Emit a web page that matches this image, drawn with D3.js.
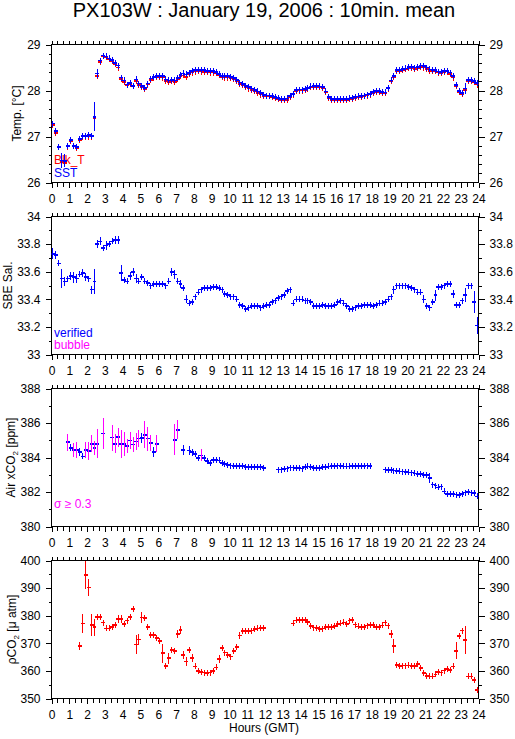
<!DOCTYPE html>
<html>
<head>
<meta charset="utf-8">
<script src="https://cdnjs.cloudflare.com/ajax/libs/d3/7.8.5/d3.min.js"></script>
<style>
  body { margin: 0; background: #fff; }
  svg { display: block; }
  text { font-family: "Liberation Sans", Arial, Helvetica, sans-serif; fill: #000; }
</style>
</head>
<body>
<div id="chart"></div>
<script>
var svgWidth = 515;
var svgHeight = 739;

var title = "PX103W : January 19, 2006 : 10min. mean";

// 10 minute bins, value i is the mean over hour i/6 .. (i+1)/6
var hourTicks = d3.range(0, 25);

// SST (blue) and bulk temperature (red), one row = 2 hours
var sst = [
27.28,27.12,26.77,26.48,26.47,26.79,26.92,26.80,26.77,26.95,27.01,27.01,
27.03,27.01,27.43,28.37,28.65,28.76,28.74,28.70,28.66,28.60,28.54,28.28,
28.22,28.13,28.16,28.10,28.24,28.15,28.10,28.06,28.15,28.26,28.30,28.32,
28.32,28.31,28.24,28.22,28.23,28.22,28.27,28.34,28.37,28.35,28.38,28.42,
28.44,28.45,28.45,28.44,28.43,28.42,28.42,28.40,28.36,28.32,28.31,28.31,
28.30,28.27,28.23,28.17,28.14,28.10,28.07,28.04,28.01,27.98,27.94,27.90,
27.89,27.89,27.88,27.86,27.84,27.82,27.81,27.83,27.88,27.93,28.01,28.02,
28.02,28.03,28.06,28.09,28.10,28.10,28.09,28.07,27.98,27.86,27.82,27.82,
27.82,27.81,27.81,27.82,27.83,27.84,27.86,27.87,27.88,27.89,27.91,27.93,
27.97,27.99,27.99,27.97,27.96,28.06,28.22,28.32,28.44,28.45,28.47,28.48,
28.51,28.51,28.50,28.51,28.54,28.53,28.50,28.46,28.45,28.44,28.41,28.40,
28.42,28.43,28.39,28.31,28.12,27.99,27.94,28.04,28.23,28.23,28.21,28.16
];
var sstErr = [[1,0.05],[2,0.07],[3,0.16],[4,0.14],[12,0.04],[14,0.32],[15,0.09],[16,0.04],
  [22,0.05],[115,0.05],[135,0.04],[139,0.12]];

var bulkT = [
27.25,27.08,26.77,26.44,26.42,26.78,26.90,26.79,26.75,26.93,27.00,27.00,
27.00,27.00,27.40,28.32,28.62,28.74,28.72,28.68,28.64,28.58,28.50,28.25,
28.19,28.12,28.14,28.09,28.21,28.12,28.08,28.03,28.13,28.23,28.28,28.29,
28.29,28.28,28.21,28.19,28.20,28.19,28.24,28.31,28.33,28.30,28.35,28.39,
28.41,28.42,28.41,28.40,28.40,28.39,28.39,28.37,28.33,28.29,28.28,28.28,
28.27,28.24,28.20,28.14,28.11,28.07,28.04,28.01,27.98,27.95,27.91,27.88,
27.87,27.87,27.86,27.84,27.82,27.80,27.79,27.80,27.86,27.91,27.99,28.00,
28.00,28.01,28.04,28.07,28.08,28.08,28.07,28.05,27.96,27.84,27.80,27.80,
27.80,27.79,27.79,27.80,27.81,27.82,27.84,27.85,27.86,27.87,27.89,27.91,
27.95,27.97,27.96,27.95,27.94,28.04,28.20,28.29,28.42,28.43,28.45,28.46,
28.48,28.48,28.47,28.48,28.51,28.50,28.47,28.43,28.43,28.42,28.39,28.38,
28.40,28.41,28.36,28.28,28.09,27.97,27.92,28.01,28.21,28.21,28.19,28.13
];
var bulkErr = [[1,0.03],[3,0.05],[4,0.05],[14,0.05],[15,0.04]];

// SBE salinity (all verified)
var sal = [
33.73,33.72,33.66,33.55,33.53,33.55,33.57,33.56,33.55,33.58,33.59,33.56,
33.55,33.47,33.53,33.80,33.82,33.77,33.79,33.80,33.82,33.83,33.83,33.59,
33.54,33.53,33.57,33.60,33.55,33.53,33.56,33.53,33.52,33.50,33.51,33.51,
33.51,33.51,33.50,33.53,33.60,33.58,33.53,33.51,33.48,33.40,33.37,33.38,
33.42,33.45,33.47,33.48,33.48,33.48,33.49,33.49,33.48,33.47,33.44,33.43,
33.42,33.42,33.40,33.36,33.35,33.33,33.34,33.35,33.35,33.35,33.34,33.35,
33.36,33.36,33.38,33.39,33.41,33.42,33.43,33.46,33.47,33.37,33.40,33.40,
33.40,33.39,33.39,33.38,33.35,33.35,33.35,33.36,33.35,33.35,33.35,33.36,
33.38,33.39,33.37,33.35,33.33,33.33,33.34,33.35,33.35,33.36,33.36,33.36,
33.35,33.36,33.37,33.37,33.38,33.40,33.42,33.47,33.50,33.50,33.50,33.50,
33.49,33.48,33.47,33.45,33.45,33.40,33.35,33.34,33.38,33.43,33.49,33.49,
33.50,33.51,33.51,33.44,33.36,33.36,33.39,33.43,33.50,33.50,33.38,33.21
];
var salErr = [[0,0.04],[1,0.03],[3,0.07],[4,0.03],[6,0.03],[7,0.04],[8,0.03],[10,0.03],[11,0.03],
  [13,0.03],[14,0.09],[15,0.03],[16,0.03],[18,0.03],[21,0.03],[22,0.03],[23,0.06],[26,0.03],
  [27,0.03],[28,0.03],[40,0.03],[41,0.03],[43,0.03],[45,0.03],[115,0.03],[125,0.03],[129,0.04],
  [135,0.03],[139,0.05],[142,0.08],[143,0.06]];

// air xCO2, ppm
var xco2 = [
null,null,null,null,null,384.89,384.56,384.45,384.45,384.31,384.06,384.45,
384.37,384.80,384.56,384.80,null,385.38,null,null,385.15,384.80,385.18,384.80,
384.80,384.68,384.99,384.76,384.93,385.09,385.13,385.32,385.09,384.85,384.31,384.80,
null,null,null,null,null,385.03,385.61,null,384.45,null,384.41,384.31,
384.21,383.98,384.12,383.98,383.79,383.67,383.86,383.86,383.83,383.69,383.63,383.57,
383.53,383.51,383.51,383.50,383.49,383.46,383.46,383.46,383.46,383.46,383.44,383.40,
null,null,null,null,383.30,383.30,383.32,383.36,383.42,383.42,383.40,383.40,
383.36,383.44,383.48,383.44,383.40,383.40,383.40,383.44,383.46,383.48,383.50,383.51,
383.53,383.51,383.48,383.48,383.48,383.50,383.51,383.51,383.51,383.51,383.53,383.51,
null,null,null,null,383.30,383.28,383.26,383.24,383.22,383.20,383.18,383.16,
383.14,383.12,383.08,383.05,383.03,382.99,382.99,382.82,382.43,382.37,382.27,382.31,
382.04,381.90,381.88,381.88,381.85,381.81,381.88,381.96,382.00,381.96,381.93,381.75
];
var xco2Err = [[5,0.5],[6,0.2],[7,0.4],[8,0.45],[9,0.25],[10,0.15],[11,0.45],[12,0.5],[13,0.5],
  [14,0.42],[15,0.85],[17,0.9],[20,0.75],[21,0.55],[22,0.55],[23,0.8],[24,0.7],[25,0.42],
  [26,0.48],[27,0.42],[28,0.48],[29,0.5],[30,0.28],[31,0.77],[32,0.7],[33,0.48],[34,0.28],
  [35,0.48],[41,0.9],[42,0.55],[44,0.28],[46,0.25],[47,0.2],[48,0.15],[50,0.35],[127,0.28]];
var sigmaLimit = 0.3;

// pCO2, uatm
var pco2 = [
null,null,null,null,null,null,null,null,null,369.0,377.2,394.7,
390.2,376.6,375.8,379.6,379.6,377.5,375.4,375.4,376.0,376.6,378.7,378.8,
376.9,378.2,379.6,382.5,369.6,371.4,379.3,379.2,376.0,373.0,373.0,372.0,
370.8,366.4,361.8,364.6,367.6,367.3,373.3,374.8,365.8,363.4,367.6,364.6,
361.6,360.0,359.5,359.4,359.2,359.4,360.0,361.3,364.3,368.2,366.6,365.8,
365.2,367.2,368.6,372.8,374.5,374.5,374.5,374.6,375.1,375.4,375.5,375.5,
null,null,null,null,null,null,null,null,null,377.2,378.3,378.4,
378.4,378.4,377.8,376.3,375.7,375.6,375.1,375.3,375.8,375.8,375.8,376.3,
377.0,377.2,377.6,377.0,378.2,378.4,376.8,376.1,376.0,376.0,376.4,376.6,
376.6,376.0,375.8,376.5,377.5,376.4,373.3,369.0,362.2,361.8,361.9,361.9,
362.0,361.8,361.8,362.5,361.0,359.2,358.2,358.0,358.0,358.7,359.5,359.4,
360.1,360.6,360.4,361.6,367.3,372.7,374.6,371.2,358.0,358.0,356.7,353.1
];
var pco2Err = [[9,1.5],[10,3.5],[11,5],[12,3],[13,4],[14,3],[22,1.5],[23,1.5],[27,1],[28,3.5],
  [29,2],[30,2],[31,1],[37,3.5],[39,2],[40,1],[42,1.5],[43,1.5],[44,1.5],[45,1.5],[46,1],[47,1.5],
  [56,1.5],[57,1],[62,1],[63,1.2],[100,1],[101,1],[114,1.5],[115,2.5],[116,1],[123,0.8],
  [135,1],[136,3],[137,0.6],[138,1],[139,5],[142,1.2],[143,1]];

var blue = "#0000ff", red = "#ff0000", magenta = "#ff00ff";

function toPoints(values, errs) {
    var sd = {};
    errs.forEach(function(e) { sd[e[0]] = e[1]; });
    return values.map(function(v, i) {
        return {h: (i + 0.5) / 6, v: v, sd: sd[i] || 0};
    }).filter(function(d) { return d.v !== null; });
}

var panels = [
    {domain: [26, 29], major: 1, minor: 0.2, fmt: d3.format("d"),
     label: [{t: "Temp. [°C]"}], labelX: 21,
     series: [{pts: toPoints(bulkT, bulkErr), color: red},
              {pts: toPoints(sst, sstErr), color: blue}],
     legend: [{t: "Blk_T", c: red, y: 164}, {t: "SST", c: blue, y: 176.5}]},
    {domain: [33, 34], major: 0.2, minor: 0.1, fmt: function(d) { return d === 33 || d === 34 ? d3.format("d")(d) : d3.format(".1f")(d); },
     label: [{t: "SBE Sal."}], labelX: 12,
     series: [{pts: toPoints(sal, salErr), color: blue}],
     legend: [{t: "verified", c: blue, y: 336.5}, {t: "bubble", c: magenta, y: 349}]},
    {domain: [380, 388], major: 2, minor: 1, fmt: d3.format("d"),
     label: [{t: "Air xCO"}, {t: "2", sub: true}, {t: " [ppm]"}], labelX: 14.5,
     series: [{pts: toPoints(xco2, xco2Err), color: blue, flag: magenta}],
     legend: [{t: "σ ≥ 0.3", c: magenta, y: 507.5}]},
    {domain: [350, 400], major: 10, minor: 5, fmt: d3.format("d"),
     label: [{t: "ρ"}, {t: "CO"}, {t: "2", sub: true}, {t: " [μ atm]"}], labelX: 15.5,
     series: [{pts: toPoints(pco2, pco2Err), color: red}],
     legend: []}
];

var margin = {left: 51.5, right: 478.5, top: 44.5};
var panelHeight = 138;
var panelStep = 172;

var svg = d3.select("#chart").append("svg")
    .attr("width", svgWidth).attr("height", svgHeight);

svg.append("text")
    .attr("x", 264).attr("y", 17)
    .attr("text-anchor", "middle")
    .style("font-size", "20px")
    .text(title);

var x = d3.scaleLinear().domain([0, 24]).range([margin.left, margin.right]);
var minorHours = d3.range(0, 24.001, 1 / 3);

panels.forEach(function(p, k) {
    var top = margin.top + k * panelStep;
    var bottom = top + panelHeight;
    var y = d3.scaleLinear().domain(p.domain).range([bottom, top]);
    var g = svg.append("g");

    var majorVals = d3.range(p.domain[0], p.domain[1] + 1e-6, p.major).map(function(d) { return +d.toFixed(3); });
    var minorVals = d3.range(p.domain[0], p.domain[1] + 1e-6, p.minor).map(function(d) { return +d.toFixed(3); });

    // y axes, left and right
    g.append("g").attr("transform", "translate(" + margin.left + ",0)")
        .call(d3.axisLeft(y).tickValues(minorVals).tickSize(3).tickFormat(""));
    g.append("g").attr("transform", "translate(" + margin.left + ",0)")
        .call(d3.axisLeft(y).tickValues(majorVals).tickSize(6).tickPadding(5).tickFormat(p.fmt));
    g.append("g").attr("transform", "translate(" + margin.right + ",0)")
        .call(d3.axisRight(y).tickValues(minorVals).tickSize(3).tickFormat(""));
    g.append("g").attr("transform", "translate(" + margin.right + ",0)")
        .call(d3.axisRight(y).tickValues(majorVals).tickSize(6).tickPadding(5).tickFormat(p.fmt));

    // x axes, top and bottom
    g.append("g").attr("transform", "translate(0," + top + ")")
        .call(d3.axisTop(x).tickValues(minorHours).tickSize(4).tickFormat(""));
    g.append("g").attr("transform", "translate(0," + bottom + ")")
        .call(d3.axisBottom(x).tickValues(minorHours).tickSize(4).tickFormat(""));
    g.append("g").attr("transform", "translate(0," + bottom + ")")
        .call(d3.axisBottom(x).tickValues(hourTicks).tickSize(5).tickPadding(7).tickFormat(d3.format("d")));

    g.selectAll(".domain").remove();
    g.selectAll(".tick line").attr("stroke", "#000").attr("shape-rendering", "crispEdges");
    g.selectAll(".tick text").style("font-size", "12px").attr("fill", "#000");

    g.append("rect")
        .attr("x", margin.left).attr("y", top)
        .attr("width", margin.right - margin.left).attr("height", panelHeight)
        .attr("fill", "none").attr("stroke", "#000")
        .attr("shape-rendering", "crispEdges");

    // y axis title, with subscripts
    var lab = g.append("text")
        .attr("transform", "translate(" + p.labelX + "," + (top + panelHeight / 2) + ") rotate(-90)")
        .attr("text-anchor", "middle")
        .style("font-size", "12px");
    var shifted = false;
    p.label.forEach(function(part) {
        var ts = lab.append("tspan").text(part.t);
        if (part.sub) {
            ts.style("font-size", "8px").attr("dy", 3);
            shifted = true;
        } else if (shifted) {
            ts.attr("dy", -3);
            shifted = false;
        }
    });

    // legend
    p.legend.forEach(function(l) {
        g.append("text")
            .attr("x", 54).attr("y", l.y)
            .style("fill", l.c)
            .style("font-size", "12px")
            .text(l.t);
    });

    // data marks: horizontal bar across the 10-min bin, vertical bar = +/- sd
    var clip = "clip" + k;
    svg.append("clipPath").attr("id", clip).append("rect")
        .attr("x", margin.left).attr("y", top).attr("width", margin.right - margin.left).attr("height", panelHeight);
    var dg = g.append("g").attr("clip-path", "url(#" + clip + ")")
        .attr("shape-rendering", "crispEdges");

    p.series.forEach(function(s) {
        var sg = dg.append("g");
        sg.selectAll("line.h").data(s.pts).enter().append("line")
            .attr("class", "h")
            .attr("x1", function(d) { return x(d.h - 1 / 12) - 0.5; })
            .attr("x2", function(d) { return x(d.h + 1 / 12) + 0.5; })
            .attr("y1", function(d) { return y(d.v); })
            .attr("y2", function(d) { return y(d.v); })
            .attr("stroke", s.color).attr("stroke-width", 1.6);
        sg.selectAll("line.v").data(s.pts).enter().append("line")
            .attr("class", "v")
            .attr("x1", function(d) { return x(d.h); })
            .attr("x2", function(d) { return x(d.h); })
            .attr("y1", function(d) { return Math.min(y(d.v) - 3, y(d.v + d.sd)); })
            .attr("y2", function(d) { return Math.max(y(d.v) + 3, y(d.v - d.sd)); })
            .attr("stroke", function(d) { return s.flag && d.sd >= sigmaLimit ? s.flag : s.color; })
            .attr("stroke-width", 1);
    });

    if (k === panels.length - 1) {
        g.append("text")
            .attr("x", 264).attr("y", bottom + 33)
            .attr("text-anchor", "middle")
            .style("font-size", "12px")
            .text("Hours (GMT)");
    }
});
</script>
</body>
</html>
